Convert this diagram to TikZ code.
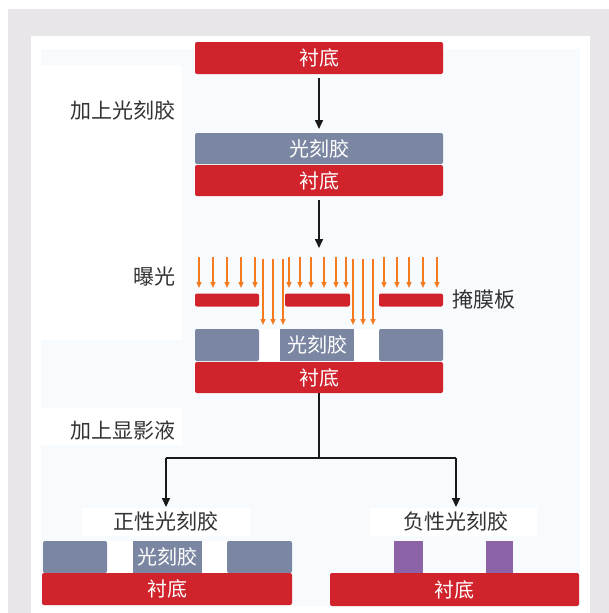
\documentclass[tikz,border=0pt]{standalone}
\usepackage{fontspec}
\setmainfont{Noto Sans CJK SC}
\usetikzlibrary{arrows.meta}
\definecolor{subred}{HTML}{D0232B}
\definecolor{resist}{HTML}{7B86A2}
\definecolor{negres}{HTML}{8B63A6}
\definecolor{lightray}{HTML}{F47B20}
\definecolor{bggrey}{HTML}{E8E6E8}
\definecolor{pale}{HTML}{F7FBFD}
\definecolor{labeltxt}{HTML}{333333}
\begin{document}
\begin{tikzpicture}[x=1pt,y=-1pt,
  blk/.style={inner sep=0pt, outer sep=0pt, rounded corners=2pt, text=white, font=\fontsize{20}{20}\selectfont},
  subbox/.style={blk, fill=subred},
  resbox/.style={blk, fill=resist},
  negbox/.style={blk, fill=negres, rounded corners=0pt},
  maskbar/.style={blk, fill=subred},
  gapbox/.style={fill=white, inner sep=0pt, outer sep=0pt},
  lbl/.style={text=labeltxt, font=\fontsize{21}{21}\selectfont, inner sep=1pt},
  flow/.style={line width=1.6pt, draw=black!90},
  flowarrow/.style={flow, -{Triangle[length=9pt,width=8pt]}},
  ray/.style={draw=lightray, line width=1.4pt, -{Triangle[length=6pt,width=5pt]}}
]
\useasboundingbox (0,0) rectangle (609,613);
% backgrounds
\fill[bggrey] (8,9) rectangle (609,613);
\fill[white] (31,36) rectangle (590,613);
\fill[pale] (41,49) rectangle (580,606);
\fill[white] (41,65) rectangle (182,340);
\fill[white] (41,408) rectangle (182,445);
\fill[white] (82,508) rectangle (250,536);
\fill[white] (370,508) rectangle (537,536);

% step 1
\node[subbox, minimum width=248pt, minimum height=32pt] (s1) at (319,58) {衬底};
\node[lbl, anchor=east] (l1) at (177,111) {加上光刻胶};
% step 2
\node[resbox, minimum width=248pt, minimum height=31pt] (pr1) at (319,148.5) {光刻胶};
\node[subbox, minimum width=248pt, minimum height=31pt] (s2) at (319,180.5) {衬底};
\draw[flowarrow, shorten <=4pt, shorten >=4pt] (s1.south) -- (pr1.north);
\coordinate (c2) at (319,248);
\draw[flowarrow, shorten <=4pt] (s2.south) -- (c2);

% exposure
\node[lbl, anchor=east] (l2) at (177,277) {曝光};
\foreach \x in {199,213,227,241,255,289,300,311,324,336,346,384,397,409,423,437}
  \draw[ray] (\x,257) -- (\x,288);
\foreach \x in {263,273,283,353,363,373}
  \draw[ray] (\x,259) -- (\x,325);
\node[maskbar, minimum width=64pt, minimum height=13pt] (m1) at (227,300) {};
\node[maskbar, minimum width=65pt, minimum height=13pt] (m2) at (317.5,300) {};
\node[maskbar, minimum width=64pt, minimum height=13pt] (m3) at (411,300) {};
\node[lbl, anchor=west] (l3) at (451,300) {掩膜板};

% exposed resist
\fill[white] (259,329) rectangle (280,361);
\fill[white] (354,329) rectangle (379,361);
\node[resbox, minimum width=64pt, minimum height=32pt] (p3a) at (227,345) {};
\node[resbox, rounded corners=0pt, minimum width=74pt, minimum height=32pt] (p3b) at (317,345) {光刻胶};
\node[resbox, minimum width=64pt, minimum height=32pt] (p3c) at (411,345) {};
\node[subbox, minimum width=248pt, minimum height=31pt] (s3) at (319,377.5) {衬底};

% develop
\node[lbl, anchor=east] (l4) at (177,430) {加上显影液};
\coordinate (j) at (319,458);
\coordinate (jl) at (166,458);
\coordinate (jr) at (456,458);
\node[lbl] (pos) at (166,522) {正性光刻胶};
\node[lbl] (neg) at (456,522) {负性光刻胶};
\draw[flow] (s3.south) -- (j);
\draw[flow] (jl) -- (jr);
\draw[flowarrow, shorten >=4pt] (jl) -- (pos.north);
\draw[flowarrow, shorten >=4pt] (jr) -- (neg.north);

% positive result
\fill[white] (107,541) rectangle (133,573);
\fill[white] (202,541) rectangle (227,573);
\node[resbox, minimum width=64pt, minimum height=32pt] (pa) at (75,557) {};
\node[resbox, rounded corners=0pt, minimum width=69pt, minimum height=32pt] (pb) at (167.5,557) {光刻胶};
\node[resbox, minimum width=65pt, minimum height=32pt] (pc) at (259.5,557) {};
\node[subbox, minimum width=250pt, minimum height=32pt] (s4) at (167,589) {衬底};

% negative result
\node[negbox, minimum width=29pt, minimum height=32pt] (na) at (408.5,557) {};
\node[negbox, minimum width=27pt, minimum height=32pt] (nb) at (499.5,557) {};
\node[subbox, minimum width=249pt, minimum height=33pt] (s5) at (454.5,589.5) {衬底};
\end{tikzpicture}
\end{document}
